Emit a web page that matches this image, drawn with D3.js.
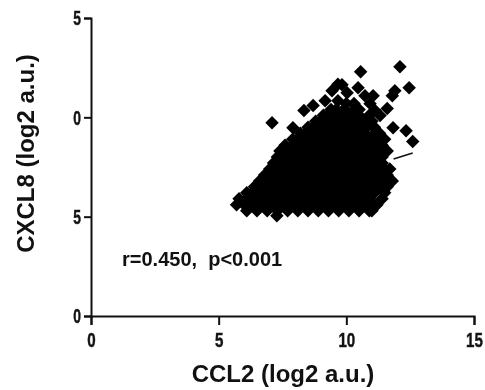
<!DOCTYPE html>
<html>
<head>
<meta charset="utf-8">
<script src="https://cdn.jsdelivr.net/npm/d3@7"></script>
<style>
  html, body { margin: 0; padding: 0; background: #fff; }
  svg { display: block; filter: blur(0.45px); }
  text { font-family: "Liberation Sans", Arial, sans-serif; font-weight: bold; fill: #111; }
</style>
</head>
<body>
<div id="chart"></div>
<script>
// Values, one list of x per row of the dense cloud
const rowY = [5.3, 5.6, 5.9, 6.2, 6.5, 6.8, 7.1, 7.4, 7.7, 8.0, 8.3, 8.6, 8.9, 9.2, 9.5, 9.8, 10.1, 10.4, 10.7];
const rowX = [
    [6.1, 6.5, 6.9, 7.3, 7.7, 8.1, 8.5, 8.9, 9.3, 9.7, 10.1, 10.5, 10.9, 11.0],
    [5.7, 6.0, 6.3, 6.7, 7.1, 7.5, 7.9, 8.3, 8.7, 9.1, 9.5, 9.9, 10.3, 10.7, 11.1, 11.2],
    [5.8, 6.1, 6.5, 6.9, 7.3, 7.7, 8.1, 8.5, 8.9, 9.3, 9.7, 10.1, 10.5, 10.9, 11.4],
    [6.1, 6.3, 6.7, 7.1, 7.5, 7.9, 8.3, 8.7, 9.1, 9.5, 9.9, 10.3, 10.7, 11.1, 11.5],
    [6.4, 6.5, 6.9, 7.3, 7.7, 8.1, 8.5, 8.9, 9.3, 9.7, 10.1, 10.5, 10.9, 11.3, 11.6],
    [6.6, 6.7, 7.1, 7.5, 7.9, 8.3, 8.7, 9.1, 9.5, 9.9, 10.3, 10.7, 11.1, 11.5, 11.8],
    [6.8, 6.9, 7.3, 7.7, 8.1, 8.5, 8.9, 9.3, 9.7, 10.1, 10.5, 10.9, 11.3, 11.6],
    [7.0, 7.1, 7.5, 7.9, 8.3, 8.7, 9.1, 9.5, 9.9, 10.3, 10.7, 11.1, 11.5, 11.7],
    [7.15, 7.3, 7.7, 8.1, 8.5, 8.9, 9.3, 9.7, 10.1, 10.5, 10.9, 11.3, 11.4],
    [7.3, 7.5, 7.9, 8.3, 8.7, 9.1, 9.5, 9.9, 10.3, 10.7, 11.1, 11.4],
    [7.4, 7.7, 8.1, 8.5, 8.9, 9.3, 9.7, 10.1, 10.5, 10.9, 11.3, 11.6],
    [7.6, 7.9, 8.3, 8.7, 9.1, 9.5, 9.9, 10.3, 10.7, 11.1, 11.4],
    [7.9, 8.1, 8.5, 8.9, 9.3, 9.7, 10.1, 10.5, 10.9, 11.3, 11.5],
    [8.2, 8.4, 8.7, 9.1, 9.5, 9.9, 10.3, 10.7, 11.1, 11.3],
    [8.5, 8.7, 8.9, 9.3, 9.7, 10.1, 10.5, 10.8, 11.1],
    [8.8, 9.0, 9.1, 9.5, 9.9, 10.3, 10.7, 11.0],
    [9.1, 9.3, 9.7, 10.1, 10.5, 10.9],
    [9.4, 9.6, 9.9, 10.3, 10.5],
    [10.0, 10.3]
];
// Stray points around the top and right of the cloud
const strayX = [12.1, 10.56, 12.46, 11.9, 11.8, 7.09, 7.91, 8.34, 8.7, 9.17, 9.44, 9.67, 9.83, 10.03, 9.67, 10.46, 10.73, 11.05, 10.93, 11.6, 11.32, 11.12, 11.83, 12.34, 12.6, 7.28];
const strayY = [12.55, 12.29, 11.49, 11.34, 11.09, 9.73, 9.48, 10.34, 10.6, 10.84, 11.34, 11.67, 11.64, 11.24, 10.84, 11.49, 11.09, 11.09, 10.69, 10.44, 10.09, 10.34, 9.48, 9.33, 8.78, 5.05];
// Short leftover line segment right of the cloud
const segmentX = [11.85, 12.6];
const segmentY = [7.9, 8.2];

const xTicks = [0, 5, 10, 15];
const xTickLabels = ["0", "5", "10", "15"];
const yTicks = [0, 5, 10, 15];
const yTickLabels = ["0", "5", "0", "5"]; // leading digit is cut off in the source

const width = 485, height = 390;
const margin = { top: 18, right: 11, bottom: 74, left: 91 };

const svg = d3.select("#chart").append("svg")
    .attr("width", width)
    .attr("height", height);

const xScale = d3.scaleLinear().domain([0, 15]).range([margin.left, width - margin.right]);
const yScale = d3.scaleLinear().domain([0, 15]).range([height - margin.bottom, margin.top]);

// Flatten rows and stray points into one list
const points = [];
rowY.forEach((y, i) => rowX[i].forEach(x => points.push({ x: x, y: y })));
strayX.forEach((x, i) => points.push({ x: x, y: strayY[i] }));

svg.append("g")
    .selectAll("path")
    .data(points)
    .enter()
    .append("path")
    .attr("d", d3.symbol().type(d3.symbolDiamond2).size(116))
    .attr("transform", d => `translate(${xScale(d.x)},${yScale(d.y)})`)
    .attr("fill", "#000");

svg.append("path")
    .attr("d", d3.line().x(d => xScale(d[0])).y(d => yScale(d[1]))(d3.zip(segmentX, segmentY)))
    .attr("fill", "none")
    .attr("stroke", "#111")
    .attr("stroke-width", 1.6);

// Axes
const xAxis = d3.axisBottom(xScale)
    .tickValues(xTicks)
    .tickFormat((d, i) => xTickLabels[i])
    .tickSize(9)
    .tickPadding(7);

const yAxis = d3.axisLeft(yScale)
    .tickValues(yTicks)
    .tickFormat((d, i) => yTickLabels[i])
    .tickSize(7)
    .tickPadding(3);

const gx = svg.append("g")
    .attr("transform", `translate(0,${height - margin.bottom})`)
    .call(xAxis);

const gy = svg.append("g")
    .attr("transform", `translate(${margin.left},0)`)
    .call(yAxis);

[gx, gy].forEach(g => {
    g.selectAll("path, line").attr("stroke", "#111").attr("stroke-width", 2);
    g.selectAll("text")
        .style("font-size", "21px")
        .style("font-weight", "bold")
        .style("stroke", "#222")
        .style("stroke-width", 0.5)
        .attr("fill", "#222");
});

// Tick digits are squeezed narrow in the source
gx.selectAll("text").attr("transform", "scale(0.72,1)");
gy.selectAll("text").attr("x", 0).attr("transform", "translate(-10,0) scale(0.66,1)");

// Axis labels
svg.append("text")
    .attr("x", 283)
    .attr("y", 382)
    .style("text-anchor", "middle")
    .style("font-size", "24px")
    .text("CCL2 (log2 a.u.)");

svg.append("text")
    .attr("transform", "translate(34,153.5) rotate(-90)")
    .style("text-anchor", "middle")
    .style("font-size", "24px")
    .text("CXCL8 (log2 a.u.)");

// Correlation note
svg.append("text")
    .attr("x", 122)
    .attr("y", 266)
    .style("font-size", "20px")
    .style("white-space", "pre")
    .text("r=0.450,  p<0.001");
</script>
</body>
</html>
